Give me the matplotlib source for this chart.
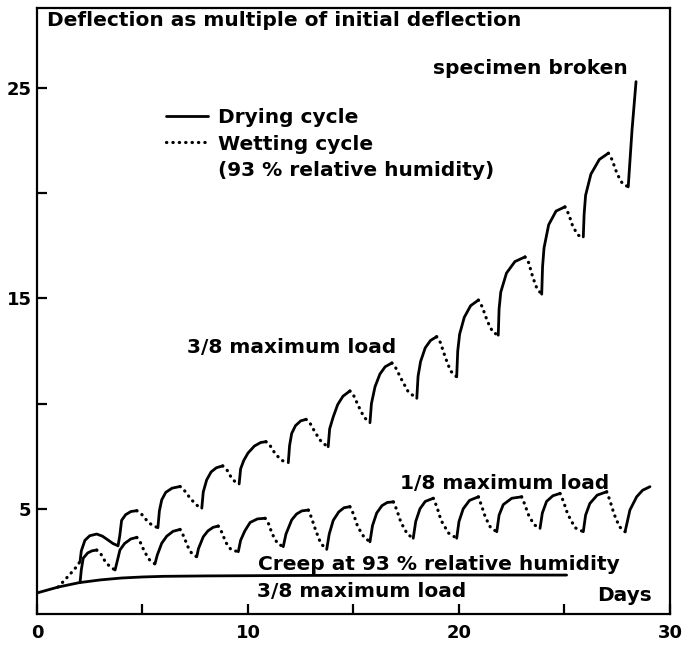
import matplotlib
matplotlib.use('Agg')
import matplotlib.pyplot as plt
from matplotlib.lines import Line2D
import numpy as np

plt.rcParams['font.family'] = ['DejaVu Sans']
plt.rcParams['font.weight'] = 'bold'

# ---- data ----
creep_days = [0, 1, 2, 3, 4, 5, 6, 8, 10, 12, 15, 20, 25.1]
creep_vals = [1.0, 1.28, 1.49, 1.62, 1.71, 1.76, 1.79, 1.81, 1.82, 1.83, 1.84, 1.85, 1.85]

# 3/8 maximum load, cyclic humidity
high_days = [1.0, 1.3, 1.6, 1.85, 2.04,
             2.1, 2.27, 2.5, 2.83, 3.1, 3.36, 3.6, 3.84, 3.92, 4.01, 4.2, 4.45, 4.73,
             4.95, 5.2, 5.45, 5.73,
             5.8, 5.91, 6.1, 6.4, 6.78,
             7.0, 7.3, 7.6, 7.81,
             7.88, 8.04, 8.25, 8.5, 8.8,
             9.0, 9.2, 9.4, 9.58,
             9.65, 9.8, 10.0, 10.3, 10.6, 10.85,
             11.05, 11.3, 11.6, 11.91,
             11.97, 12.07, 12.25, 12.5, 12.75,
             12.95, 13.2, 13.5, 13.8,
             13.87, 14.04, 14.25, 14.5, 14.83,
             15.0, 15.25, 15.5, 15.78,
             15.85, 16.02, 16.25, 16.5, 16.82,
             17.0, 17.3, 17.6, 18.0,
             18.06, 18.18, 18.4, 18.65, 18.94,
             19.12, 19.35, 19.6, 19.89,
             19.94, 20.03, 20.25, 20.55, 20.92,
             21.1, 21.35, 21.6, 21.86,
             21.9, 21.98, 22.25, 22.65, 23.13,
             23.3, 23.5, 23.7, 23.92,
             23.96, 24.03, 24.25, 24.6, 25.02,
             25.2, 25.4, 25.65, 25.89,
             25.93, 26.0, 26.25, 26.65, 27.08,
             27.25, 27.5, 27.75, 28.02,
             28.1, 28.2, 28.39]
high_vals = [1.28, 1.6, 1.93, 2.22, 2.49,
             3.0, 3.5, 3.72, 3.8, 3.7, 3.52, 3.35, 3.24, 3.7, 4.45, 4.72, 4.87, 4.91,
             4.75, 4.45, 4.22, 4.1,
             4.9, 5.42, 5.78, 5.98, 6.06,
             5.85, 5.45, 5.15, 5.03,
             5.8, 6.37, 6.75, 6.95, 7.04,
             6.85, 6.5, 6.27, 6.18,
             6.9, 7.3, 7.65, 7.98, 8.15, 8.19,
             8.0, 7.6, 7.3, 7.19,
             8.0, 8.58, 8.95, 9.18, 9.25,
             9.05, 8.6, 8.15, 7.95,
             8.8, 9.37, 9.95, 10.35, 10.6,
             10.4, 9.85, 9.35, 9.09,
             10.0, 10.8, 11.4, 11.75, 11.93,
             11.7, 11.1, 10.55, 10.25,
             11.3, 12.0, 12.65, 13.0, 13.18,
             12.9, 12.2, 11.55, 11.27,
             12.5, 13.3, 14.1, 14.65, 14.92,
             14.6, 13.9, 13.4, 13.25,
             14.5, 15.3, 16.2, 16.75, 16.97,
             16.7, 16.0, 15.45, 15.2,
             16.5, 17.4, 18.5, 19.15, 19.35,
             19.0, 18.4, 18.0, 17.92,
             19.0, 19.9, 20.9, 21.6, 21.9,
             21.6, 20.9, 20.45, 20.3,
             21.5, 23.0, 25.3]
# days where the line switches between wetting (dotted) and drying (solid); starts wetting
high_breaks = [1.0, 2.04, 4.73, 5.73, 6.78, 7.81, 8.8, 9.58, 10.85, 11.91, 12.75, 13.8,
               14.83, 15.78, 16.82, 18.0, 18.94, 19.89, 20.92, 21.86, 23.13, 23.92,
               25.02, 25.89, 27.08, 28.02, 28.39]

# 1/8 maximum load, cyclic humidity
low_days = [2.04, 2.1, 2.19, 2.4, 2.6, 2.83,
            3.0, 3.2, 3.45, 3.7,
            3.8, 3.93, 4.15, 4.45, 4.73,
            4.9, 5.1, 5.35, 5.59,
            5.7, 5.91, 6.15, 6.45, 6.78,
            6.95, 7.15, 7.35, 7.57,
            7.65, 7.88, 8.1, 8.35, 8.59,
            8.75, 8.95, 9.2, 9.54,
            9.65, 9.85, 10.1, 10.45, 10.81,
            10.97, 11.15, 11.4, 11.67,
            11.8, 12.07, 12.3, 12.55, 12.86,
            13.0, 13.2, 13.45, 13.73,
            13.85, 14.04, 14.3, 14.55, 14.83,
            15.0, 15.2, 15.5, 15.78,
            15.9, 16.1, 16.35, 16.6, 16.89,
            17.05, 17.25, 17.55, 17.83,
            17.95, 18.15, 18.4, 18.78,
            18.95, 19.15, 19.5, 19.89,
            20.0, 20.2, 20.5, 20.92,
            21.05, 21.25, 21.5, 21.79,
            21.9, 22.1, 22.5, 22.97,
            23.1, 23.3, 23.55, 23.84,
            23.95, 24.15, 24.45, 24.79,
            24.95, 25.15, 25.5, 25.89,
            26.0, 26.2, 26.55, 27.0,
            27.15, 27.35, 27.6, 27.87,
            27.98, 28.1, 28.42, 28.7, 29.05]
low_vals = [1.49, 2.1, 2.65, 2.9, 3.0, 3.04,
            2.9, 2.55, 2.25, 2.09,
            2.5, 3.04, 3.35, 3.57, 3.64,
            3.4, 2.95, 2.55, 2.38,
            2.8, 3.36, 3.7, 3.93, 4.02,
            3.7, 3.2, 2.85, 2.72,
            3.1, 3.67, 3.95, 4.12, 4.18,
            3.9, 3.4, 3.05, 2.96,
            3.5, 3.95, 4.35, 4.52, 4.55,
            4.3, 3.8, 3.35, 3.2,
            3.8, 4.47, 4.75, 4.9, 4.94,
            4.6, 4.0, 3.35, 3.07,
            3.8, 4.45, 4.85, 5.05, 5.1,
            4.75, 4.15, 3.65, 3.43,
            4.2, 4.8, 5.15, 5.3, 5.33,
            4.95, 4.35, 3.8, 3.6,
            4.4, 5.0, 5.35, 5.5,
            5.1, 4.45, 3.85, 3.6,
            4.4, 5.0, 5.4, 5.57,
            5.2, 4.6, 4.1, 3.91,
            4.7, 5.2, 5.5, 5.57,
            5.25, 4.7, 4.25, 4.07,
            4.8, 5.35, 5.62, 5.73,
            5.35, 4.75, 4.1, 3.91,
            4.7, 5.25, 5.65, 5.81,
            5.4, 4.75, 4.15, 3.91,
            4.4, 4.94, 5.57, 5.88, 6.05]
# starts drying
low_breaks = [2.04, 2.83, 3.7, 4.73, 5.59, 6.78, 7.57, 8.59, 9.54, 10.81, 11.67, 12.86,
              13.73, 14.83, 15.78, 16.89, 17.83, 18.78, 19.89, 20.92, 21.79, 22.97,
              23.84, 24.79, 25.89, 27.0, 27.87, 29.05]

x_major = [0, 10, 20, 30]
x_minor = [5, 15, 25]
y_major = [5, 15, 25]
y_minor = [10, 20]

# ---- figure ----
fig = plt.figure(figsize=(6.82, 6.45), dpi=100)
ax = fig.add_axes([37 / 682, 31 / 645, 633 / 682, 606 / 645])
ax.set_xlim(0, 30)
ax.set_ylim(0, 28.8)

solid = dict(color='black', lw=2.0, solid_capstyle='round', solid_joinstyle='round')
dotted = dict(color='black', lw=2.3, linestyle=(0, (0.1, 1.9)), dash_capstyle='round')


def draw(days, vals, breaks, first_dry):
    d = np.asarray(days)
    v = np.asarray(vals)
    for i in range(len(breaks) - 1):
        a, b = breaks[i], breaks[i + 1]
        m = (d >= a - 1e-9) & (d <= b + 1e-9)
        dry = (i % 2 == 0) == first_dry
        ax.plot(d[m], v[m], **(solid if dry else dotted))


ax.plot(creep_days, creep_vals, **solid)
draw(high_days, high_vals, high_breaks, first_dry=False)
draw(low_days, low_vals, low_breaks, first_dry=True)

# ticks
ax.set_xticks(x_major)
ax.set_xticks(x_minor, minor=True)
ax.set_yticks(y_major)
ax.set_yticks(y_minor, minor=True)
ax.tick_params(which='both', direction='in', length=7, width=1.6, top=False, right=False)
ax.tick_params(axis='x', which='major', pad=7, labelsize=13)
ax.tick_params(axis='y', which='major', pad=4, labelsize=13)
for lab in ax.get_xticklabels() + ax.get_yticklabels():
    lab.set_fontweight('bold')
for s in ax.spines.values():
    s.set_linewidth(1.6)

fs = 14.5
ax.text(0.47, 28.2, 'Deflection as multiple of initial deflection', fontsize=fs,
        ha='left', va='center')
ax.text(23.36, 25.94, 'specimen broken', fontsize=fs, ha='center', va='center')
ax.text(12.09, 12.68, '3/8 maximum load', fontsize=fs, ha='center', va='center')
ax.text(22.18, 6.22, '1/8 maximum load', fontsize=fs, ha='center', va='center')
ax.text(19.03, 2.33, 'Creep at 93 % relative humidity', fontsize=fs, ha='center', va='center')
ax.text(15.4, 1.05, '3/8 maximum load', fontsize=fs, ha='center', va='center')
ax.text(27.84, 0.9, 'Days', fontsize=fs, ha='center', va='center')

handles = [Line2D([], [], **solid), Line2D([], [], **dotted), Line2D([], [], color='none')]
labels = ['Drying cycle', 'Wetting cycle', '(93 % relative humidity)']
leg = ax.legend(handles, labels, loc='upper left', bbox_to_anchor=(156 / 682, 1 - 98 / 645),
                bbox_transform=fig.transFigure, frameon=False, fontsize=fs,
                handlelength=2.1, handletextpad=0.5, labelspacing=0.37, borderpad=0)

fig.savefig('out.png', dpi=100)
